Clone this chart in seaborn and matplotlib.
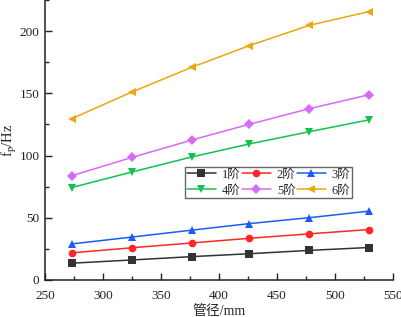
import matplotlib
matplotlib.use("Agg")
import matplotlib.pyplot as plt
import pandas as pd
import seaborn as sns
from matplotlib.ticker import MultipleLocator

# --- data ---
diameters = [273, 325, 377, 426, 478, 529]
order_labels = ['1阶', '2阶', '3阶', '4阶', '5阶', '6阶']
f1 = [13.5, 16.1, 18.8, 21.1, 23.8, 26.1]
f2 = [21.8, 25.9, 29.8, 33.5, 37.1, 40.5]
f3 = [29.0, 34.5, 40.1, 45.3, 50.1, 55.3]
f4 = [74.3, 86.8, 99.0, 109.3, 119.2, 128.6]
f5 = [83.8, 98.5, 112.6, 125.1, 137.7, 148.8]
f6 = [129.6, 151.1, 171.1, 188.3, 204.7, 215.6]

COLORS = ['#333333', '#FF2626', '#1A5CF5', '#12C24E', '#D56CF2', '#E9A80C']
MARKERS = ['s', 'o', '^', 'v', 'D', '<']

series = [f1, f2, f3, f4, f5, f6]
df = pd.DataFrame([
    {'d': d, 'f': v, 'order': lab}
    for lab, vals in zip(order_labels, series)
    for d, v in zip(diameters, vals)
])

sns.set_style('ticks')
plt.rcParams['font.family'] = ['Liberation Serif', 'Noto Sans CJK SC']
plt.rcParams['mathtext.fontset'] = 'stix'

fig = plt.figure(figsize=(4.01, 3.17), dpi=100)
ax = fig.add_axes([45 / 401, 37 / 317, 348 / 401, 280 / 317])

sns.lineplot(data=df, x='d', y='f', hue='order', style='order',
             palette=COLORS, markers=MARKERS, dashes=False,
             markersize=5.5, markeredgewidth=0, linewidth=1.1, ax=ax)

ax.set_xlim(250, 550)
ax.set_ylim(0, 225)
ax.xaxis.set_major_locator(MultipleLocator(50))
ax.xaxis.set_minor_locator(MultipleLocator(25))
ax.yaxis.set_major_locator(MultipleLocator(50))
ax.yaxis.set_minor_locator(MultipleLocator(25))
ax.tick_params(which='major', direction='in', length=5, width=1,
               labelsize=9.5, colors='#222222', pad=4)
ax.tick_params(axis='x', which='major', pad=7)
ax.tick_params(which='minor', direction='in', length=3, width=1)

for s in ['top', 'right']:
    ax.spines[s].set_visible(False)
for s in ['left', 'bottom']:
    ax.spines[s].set_linewidth(1.1)
    ax.spines[s].set_color('#222222')

ax.set_xlabel('管径/mm', fontsize=10, labelpad=2)
ax.set_ylabel(r'f$_\mathrm{p}$/Hz', fontsize=10.5)
ax.yaxis.set_label_coords(-0.075, 0.5)

# legend filled row by row: 1 2 3 / 4 5 6
handles, labels = ax.get_legend_handles_labels()
idx = [0, 3, 1, 4, 2, 5]
ax.legend([handles[i] for i in idx], [labels[i] for i in idx], ncol=3,
          loc='upper left', bbox_to_anchor=(0.402, 0.404), fontsize=9,
          frameon=True, fancybox=False, edgecolor='#666666', framealpha=1,
          handlelength=2.3, handletextpad=0.5, columnspacing=0.1,
          borderpad=0.15, labelspacing=0.3, borderaxespad=0)

plt.savefig('out.png', dpi=100)
